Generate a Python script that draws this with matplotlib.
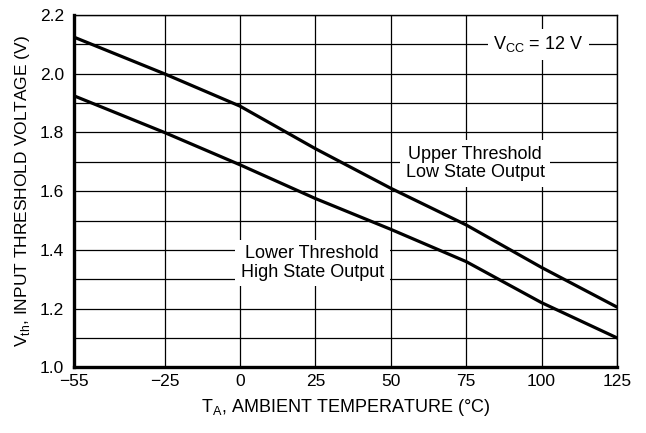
import matplotlib
matplotlib.use('Agg')
import matplotlib.pyplot as plt
import numpy as np

plt.rcParams['font.family'] = ['Liberation Sans Narrow', 'Liberation Sans', 'DejaVu Sans']
plt.rcParams['mathtext.fontset'] = 'custom'
plt.rcParams['mathtext.rm'] = 'Liberation Sans'

# temperature (°C)
temp = [-55, -25, 0, 25, 50, 75, 100, 125]
# threshold voltages (V)
upper_vth = [2.125, 2.0, 1.89, 1.745, 1.61, 1.485, 1.34, 1.205]
lower_vth = [1.925, 1.80, 1.69, 1.575, 1.47, 1.36, 1.22, 1.10]

xticks = [-55, -25, 0, 25, 50, 75, 100, 125]
yticks = [1.0, 1.2, 1.4, 1.6, 1.8, 2.0, 2.2]

fig = plt.figure(figsize=(6.46, 4.33), dpi=100)
ax = fig.add_axes([0.1146, 0.152, 0.8404, 0.813])

ax.plot(temp, upper_vth, color='k', lw=2.3, zorder=3)
ax.plot(temp, lower_vth, color='k', lw=2.3, zorder=3)

ax.set_xlim(-55, 125)
ax.set_ylim(1.0, 2.2)
ax.set_xticks(xticks)
ax.set_yticks(yticks)
ax.set_yticks(np.arange(1.1, 2.2, 0.2), minor=True)
ax.set_xticklabels([str(t).replace('-', '\u2212') for t in xticks])
ax.set_yticklabels(['%.1f' % v for v in yticks])
ax.tick_params(which='both', length=0, labelsize=12.5)
ax.tick_params(axis='x', pad=5)
ax.tick_params(axis='y', pad=7)
ax.grid(True, which='both', color='k', lw=0.9)

for s in ['top', 'right']:
    ax.spines[s].set_linewidth(1.0)
for s in ['left', 'bottom']:
    ax.spines[s].set_linewidth(2.4)

ax.set_xlabel(r'T$_{\mathregular{A}}$, AMBIENT TEMPERATURE (°C)', fontsize=13, labelpad=6)
ax.set_ylabel(r'V$_{\mathregular{th}}$, INPUT THRESHOLD VOLTAGE (V)', fontsize=12.5, labelpad=6)

box = dict(facecolor='white', edgecolor='none', pad=4)
ax.text(99, 2.1, r'V$_{\mathregular{CC}}$ = 12 V', fontsize=13, ha='center', va='center', bbox=box, zorder=4)
ax.text(78, 1.695, 'Upper Threshold\nLow State Output', fontsize=13, ha='center', va='center',
        linespacing=1.1, bbox=box, zorder=4)
ax.text(24, 1.355, 'Lower Threshold\nHigh State Output', fontsize=13, ha='center', va='center',
        linespacing=1.1, bbox=box, zorder=4)

plt.savefig('out.png', dpi=100)
